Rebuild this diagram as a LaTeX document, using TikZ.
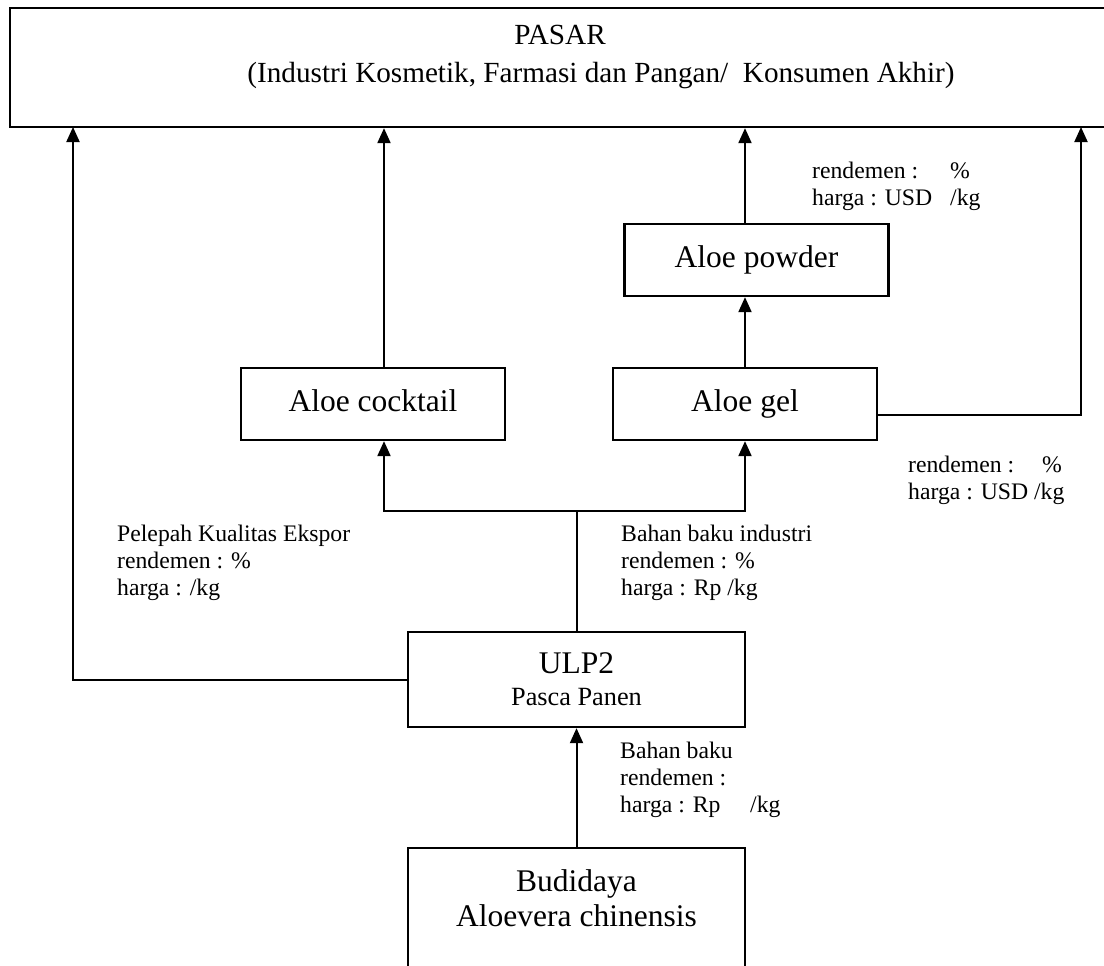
\documentclass[tikz,border=0pt]{standalone}
\usepackage{fontspec}
\setmainfont{Liberation Serif}
\usetikzlibrary{arrows.meta}
\begin{document}
\begin{tikzpicture}[x=1pt,y=-1pt,
  boxstyle/.style={draw,line width=2.3pt,inner sep=0pt,font=\fontsize{31.5}{34}\selectfont,align=center},
  single/.style={text height=21pt,text depth=7pt},
  bigtext/.style={inner sep=0pt,font=\fontsize{29.2}{38}\selectfont,align=center},
  conn/.style={line width=2pt,-{Triangle[width=13pt,length=15pt]}},
  plain/.style={line width=2pt},
  lbl/.style={font=\fontsize{23.7}{27}\selectfont,align=left,inner sep=0pt,anchor=west}]
\useasboundingbox (0,0) rectangle (1104,966);
\clip (0,0) rectangle (1104,966);
% boxes
\node[boxstyle,minimum width=1180pt,minimum height=119pt] (pasar) at (600,67.5) {};
\node[bigtext] (pasartxt) at (601,57) {PASAR\hspace*{82pt}\\(Industri Kosmetik, Farmasi dan Pangan/\ \ Konsumen Akhir)};
\node[boxstyle,single,minimum width=264pt,minimum height=72pt] (powder) at (756.5,260) {Aloe powder};
\node[boxstyle,single,minimum width=264pt,minimum height=72pt] (cocktail) at (373,404) {Aloe cocktail};
\node[boxstyle,single,minimum width=264pt,minimum height=72pt] (gel) at (745,404) {Aloe gel};
\node[boxstyle,minimum width=337pt,minimum height=95pt] (ulp) at (576.5,679.5) {ULP2\\[-2pt]{\fontsize{26.3}{30}\selectfont Pasca Panen}};
\node[boxstyle,minimum width=337pt,minimum height=140pt] (bud) at (576.5,918) {};
\node[bigtext,font=\fontsize{31.5}{35}\selectfont] (budtxt) at (576.5,898) {Budidaya\\Aloevera chinensis};
% coordinates
\coordinate (jc) at (576.5,511);
\coordinate (lt) at (73,127);
\coordinate (rt) at (1081,127);
\coordinate (cx) at (384,0);
% connectors
\draw[conn] (bud.north) -- (ulp.south);
\draw[plain] (ulp.north) -- (jc);
\draw[conn] (jc) -| (cx |- cocktail.south);
\draw[conn] (jc) -| (gel.south);
\draw[conn] (cx |- cocktail.north) -- (cx |- pasar.south);
\draw[conn] (gel.north) -- (gel.north |- powder.south);
\draw[conn] (gel.north |- powder.north) -- (gel.north |- pasar.south);
\draw[conn] ([yshift=-11pt]gel.east) -| (rt);
\draw[conn] (ulp.west) -| (lt);
% labels
\node[lbl] (l1) at (812,186) {\makebox[138pt][l]{rendemen :}\%\\\makebox[138pt][l]{harga : USD}/kg};
\node[lbl] (l2) at (908,480) {\makebox[134pt][l]{rendemen :}\%\\harga : USD /kg};
\node[lbl] (l3) at (117,563) {Pelepah Kualitas Ekspor\\rendemen : \%\\harga : /kg};
\node[lbl] (l4) at (621,563) {Bahan baku industri\\rendemen : \%\\harga : Rp /kg};
\node[lbl] (l5) at (620,780) {Bahan baku\\rendemen :\\\makebox[130pt][l]{harga : Rp}/kg};
\end{tikzpicture}
\end{document}
